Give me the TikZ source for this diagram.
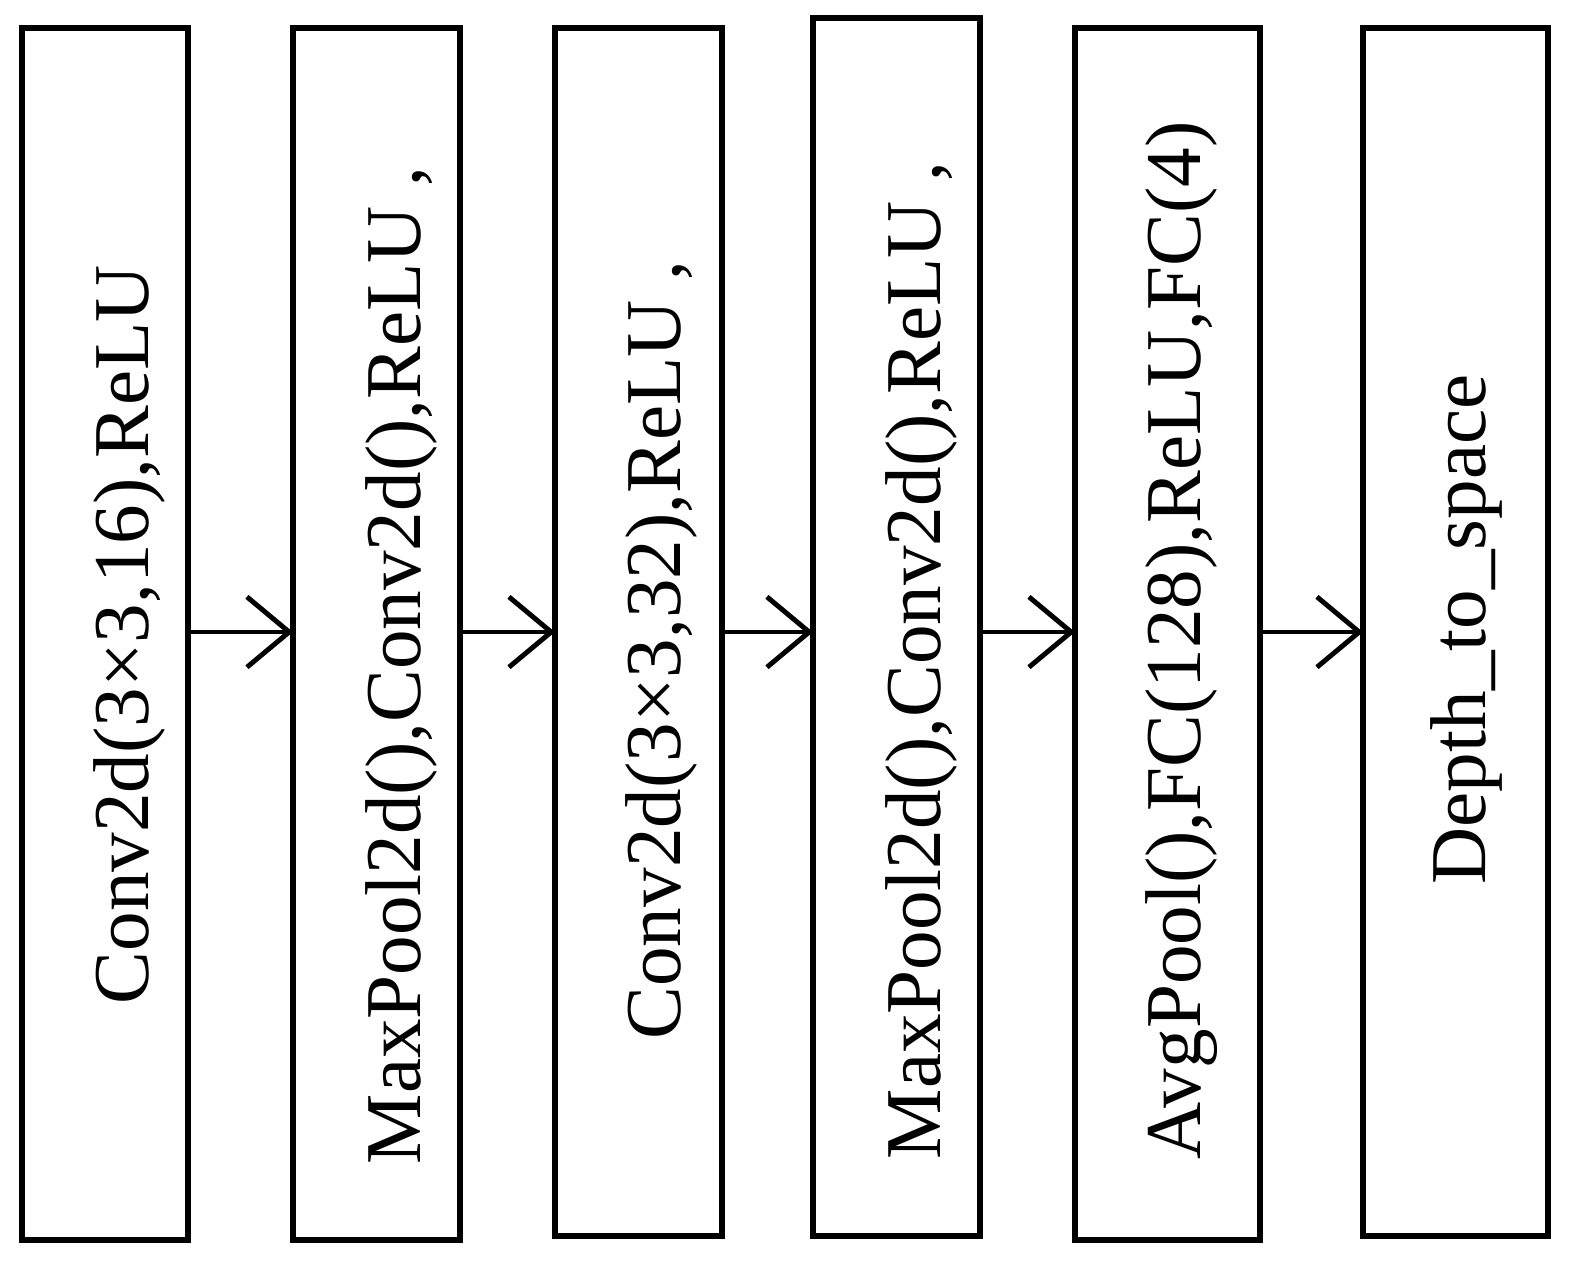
\documentclass[tikz,border=0pt]{standalone}
\usepackage{fontspec}
\setmainfont{Liberation Serif}
\usetikzlibrary{arrows.meta}
\begin{document}
\begin{tikzpicture}[x=0.01cm,y=-0.01cm,
  box/.style={draw,line width=1.7pt,inner sep=0pt},
  lbl/.style={rotate=90,anchor=base west,font=\fontsize{22.5}{22.5}\selectfont,inner sep=0pt},
  arr/.style={line width=1.4pt,-{Straight Barb[length=12pt,width=20pt,line width=1.4pt]}}]
\useasboundingbox (0,0) rectangle (1577,1265);
\path[box] (22,28) rectangle (188,1240);
\path[box] (293,28) rectangle (460,1240);
\path[box] (555,28) rectangle (722,1236);
\path[box] (813,18) rectangle (980,1236);
\path[box] (1075,28) rectangle (1260,1240);
\path[box] (1363,28) rectangle (1548,1236);
\coordinate (a1) at (188,632); \coordinate (b1) at (293,632);
\coordinate (a2) at (460,632); \coordinate (b2) at (555,632);
\coordinate (a3) at (722,632); \coordinate (b3) at (813,632);
\coordinate (a4) at (980,632); \coordinate (b4) at (1075,632);
\coordinate (a5) at (1260,632); \coordinate (b5) at (1363,632);
\foreach \i in {1,...,5} \draw[arr] (a\i) -- (b\i);
\node[lbl] (t1) at (148,1005) {Conv2d(3×3,16),ReLU};
\node[lbl] (t2) at (420,1165) {MaxPool2d(),Conv2d(),ReLU ,};
\node[lbl] (t3) at (680,1040) {Conv2d(3×3,32),ReLU ,};
\node[lbl] (t4) at (940,1160) {MaxPool2d(),Conv2d(),ReLU ,};
\node[lbl] (t5) at (1200,1160) {AvgPool(),FC(128),ReLU,FC(4)};
\node[lbl] (t6) at (1485,885) {Depth\_to\_space};
\end{tikzpicture}
\end{document}
